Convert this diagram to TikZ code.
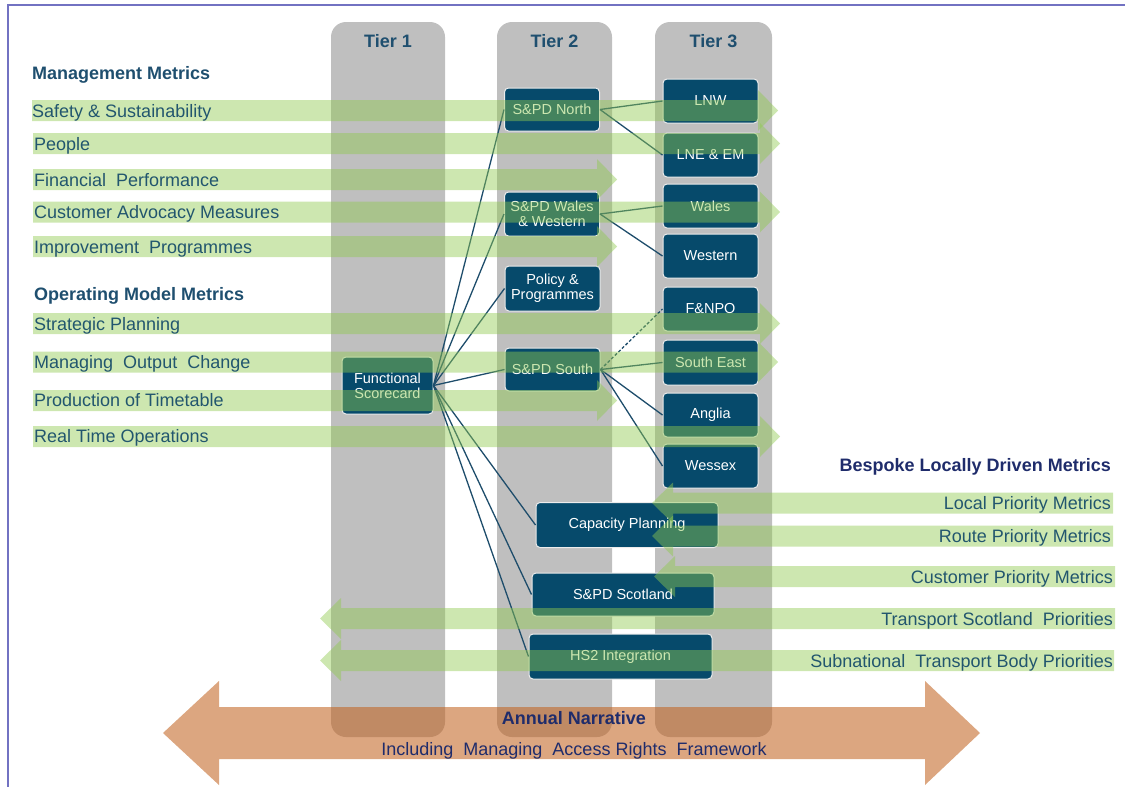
\documentclass[tikz,border=0pt]{standalone}
\usepackage{fontspec}
\setmainfont{Liberation Sans}
\definecolor{framec}{HTML}{7272C2}
\definecolor{colgray}{HTML}{BFBFBF}
\definecolor{boxc}{HTML}{064A6B}
\definecolor{linec}{HTML}{1E4D6B}
\definecolor{greenc}{RGB}{144,202,80}
\definecolor{orangec}{RGB}{193,98,32}
\definecolor{labc}{HTML}{22566E}
\definecolor{headc}{HTML}{1F4F6F}
\definecolor{navyc}{HTML}{1F2C6B}
\newcommand\GArrowR[3]{\fill[garrow] (#1,{#2-10.5}) -- ({#3-20},{#2-10.5}) -- ({#3-20},{#2-20.5}) -- (#3,#2) -- ({#3-20},{#2+20.5}) -- ({#3-20},{#2+10.5}) -- (#1,{#2+10.5}) -- cycle;}
\newcommand\GArrowL[3]{\fill[garrow] (#1,{#2-10.5}) -- ({#3+21},{#2-10.5}) -- ({#3+21},{#2-20.5}) -- (#3,#2) -- ({#3+21},{#2+20.5}) -- ({#3+21},{#2+10.5}) -- (#1,{#2+10.5}) -- cycle;}
\begin{document}
\begin{tikzpicture}[x=1pt,y=-1pt,
  tiercol/.style={fill=colgray, rounded corners=15pt},
  tierlab/.style={text=headc, font=\fontsize{18}{20}\selectfont\bfseries},
  bx/.style={rounded corners=4pt, fill=boxc, draw=white!85!gray, line width=1pt, text=white,
     font=\fontsize{14.5}{15}\selectfont, align=center, inner sep=0pt, minimum width=95pt, minimum height=44pt},
  conn/.style={draw=linec, line width=1.3pt},
  garrow/.style={fill=greenc, fill opacity=0.45},
  lab/.style={text=labc, font=\fontsize{18}{20}\selectfont, inner sep=0pt},
  hdr/.style={text=headc, font=\fontsize{18}{20}\selectfont\bfseries, inner sep=0pt},
  nav/.style={text=navyc, font=\fontsize{18}{20}\selectfont, inner sep=0pt}
]
\useasboundingbox (0,0) rectangle (1125,787);
% frame
\draw[framec, line width=2.5pt] (8,787) -- (8,5) -- (1125,5);
% tier columns
\fill[tiercol] (331,22) rectangle (445,737);
\fill[tiercol] (497,22) rectangle (612,737);
\fill[tiercol] (655,22) rectangle (772,737);
\node[tierlab] (tl1) at (388,41) {Tier 1};
\node[tierlab] (tl2) at (554.5,41) {Tier 2};
\node[tierlab] (tl3) at (713.5,41) {Tier 3};
% orange double arrow
\fill[orangec, fill opacity=0.57] (163,733) -- (219,681) -- (219,707) -- (925,707) -- (925,681) -- (980,733) -- (925,785) -- (925,759) -- (219,759) -- (219,785) -- cycle;
\node[nav, font=\fontsize{18}{20}\selectfont\bfseries, anchor=base] (an) at (574,724) {Annual Narrative};
\node[nav, anchor=base] (inc) at (574,755) {Including\ \ Managing\ \ Access Rights\ \ Framework};
% boxes tier 1/2
\node[bx, minimum width=91pt, minimum height=57pt] (fs) at (387.5,385.5) {Functional\\Scorecard};
\node[bx, minimum height=43pt] (north) at (552,109.5) {S\&PD North};
\node[bx] (waw) at (552,214) {S\&PD Wales\\\& Western};
\node[bx, minimum height=45pt] (policy) at (552.5,288.5) {Policy \&\\Programmes};
\node[bx, minimum height=43pt] (south) at (552.5,369.5) {S\&PD South};
\node[bx, minimum width=182pt, minimum height=45pt] (cap) at (627,525) {Capacity Planning};
\node[bx, minimum width=182pt, minimum height=43pt] (scot) at (623,594.5) {S\&PD Scotland};
\node[bx, minimum width=183pt, minimum height=45pt] (hs2) at (620.5,656.5) {HS2 Integration};
% tier 3
\node[bx] (lnw) at (710.5,101) {LNW};
\node[bx] (lne) at (710.5,155) {LNE \& EM};
\node[bx] (wales) at (710.5,206) {Wales};
\node[bx] (western) at (710.5,256) {Western};
\node[bx] (fnpo) at (710.5,309) {F\&NPO};
\node[bx, minimum height=45pt] (se) at (710.5,362.5) {South East};
\node[bx] (anglia) at (710.5,415) {Anglia};
\node[bx] (wessex) at (710.5,466) {Wessex};
% connectors
\foreach \t in {north,waw,policy,south,cap,scot,hs2} {\draw[conn] (fs.east) -- (\t.west);}
\draw[conn] (north.east) -- (lnw.west);
\draw[conn] (north.east) -- (lne.west);
\draw[conn] (waw.east) -- (wales.west);
\draw[conn] (waw.east) -- (western.west);
\draw[conn, dashed, dash pattern=on 3pt off 2pt] (south.east) -- (fnpo.west);
\draw[conn] (south.east) -- (se.west);
\draw[conn] (south.east) -- (anglia.west);
\draw[conn] (south.east) -- (wessex.west);
% green arrows
\GArrowR{32}{110.5}{778}
\GArrowR{33}{143.5}{780}
\GArrowR{33}{179.5}{617}
\GArrowR{33}{212}{780}
\GArrowR{33}{246.5}{617}
\GArrowR{33}{323.5}{780}
\GArrowR{33}{362}{778}
\GArrowR{33}{400.5}{617}
\GArrowR{33}{436.5}{780}
\GArrowL{1113}{503}{652}
\GArrowL{1113}{536}{652}
\GArrowL{1115}{576.5}{654}
\GArrowL{1115}{618.5}{320}
\GArrowL{1114}{660.5}{320}
% left labels
\node[hdr, anchor=base west] (mm) at (32,79.5) {Management Metrics};
\node[lab, anchor=base west] (l1) at (32,117) {Safety \& Sustainability};
\node[lab, anchor=base west] (l2) at (34,150) {People};
\node[lab, anchor=base west] (l3) at (34,186) {Financial\ \ Performance};
\node[lab, anchor=base west] (l4) at (34,218.5) {Customer Advocacy Measures};
\node[lab, anchor=base west] (l5) at (34,253) {Improvement\ \ Programmes};
\node[hdr, anchor=base west] (om) at (34,300.5) {Operating Model Metrics};
\node[lab, anchor=base west] (l6) at (34,330) {Strategic Planning};
\node[lab, anchor=base west] (l7) at (34,368.5) {Managing\ \ Output\ \ Change};
\node[lab, anchor=base west] (l8) at (34,406) {Production of Timetable};
\node[lab, anchor=base west] (l9) at (34,442.5) {Real Time Operations};
% right labels
\node[nav, font=\fontsize{18}{20}\selectfont\bfseries, anchor=base east] (bl) at (1111,471.5) {Bespoke Locally Driven Metrics};
\node[lab, anchor=base east] (r1) at (1111,509.5) {Local Priority Metrics};
\node[lab, anchor=base east] (r2) at (1111,542.5) {Route Priority Metrics};
\node[lab, anchor=base east] (r3) at (1113,583) {Customer Priority Metrics};
\node[lab, anchor=base east] (r4) at (1113,625) {Transport Scotland\ \ Priorities};
\node[lab, anchor=base east] (r5) at (1113,667) {Subnational\ \ Transport Body Priorities};
\end{tikzpicture}
\end{document}
